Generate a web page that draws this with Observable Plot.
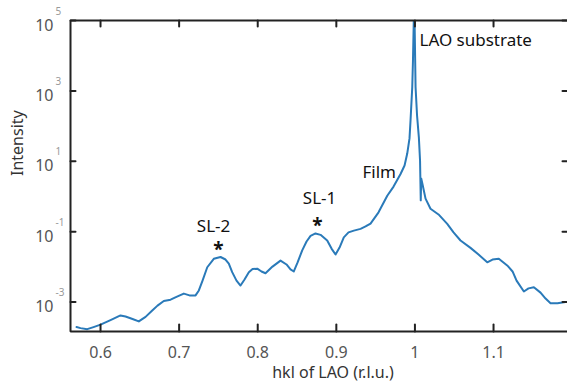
<!DOCTYPE html>
<html>
<head>
<meta charset="utf-8">
<script src="https://cdn.jsdelivr.net/npm/d3@7"></script>
<script src="https://cdn.jsdelivr.net/npm/@observablehq/plot@0.6"></script>
<style>
  html, body { margin: 0; padding: 0; background: #fff; }
</style>
</head>
<body>
<div id="chart"></div>
<script>
// hkl (r.l.u.)
const hkl = [0.5695,0.5746,0.5831,0.5911,0.600,0.6127,0.6254,0.6318,0.6407,0.6487,0.6573,0.6658,0.6725,0.6805,0.6891,0.698,0.706,0.7132,0.7209,0.7251,0.7298,0.7358,0.7441,0.7527,0.759,0.7632,0.7675,0.773,0.7781,0.7832,0.7887,0.7934,0.7994,0.8048,0.8099,0.8188,0.829,0.8366,0.8417,0.8459,0.8506,0.8566,0.8621,0.8672,0.8735,0.8799,0.8884,0.8939,0.899,0.9041,0.9095,0.9155,0.9223,0.9308,0.9372,0.9435,0.9537,0.9648,0.9728,0.9817,0.9868,0.9902,0.9931,0.9944,0.9966,0.9975,0.9986,0.9995,1.0008,1.0027,1.005,1.0065,1.0074,1.008,1.0097,1.0135,1.0198,1.03,1.0411,1.0491,1.058,1.0707,1.0809,1.092,1.0987,1.1067,1.1174,1.1242,1.1293,1.1386,1.1445,1.1513,1.1598,1.1662,1.1725,1.1814,1.1916];
// intensity
const intensity = [1.95e-4,1.82e-4,1.70e-4,1.95e-4,2.29e-4,3.09e-4,4.17e-4,3.89e-4,3.31e-4,2.82e-4,3.80e-4,5.75e-4,7.94e-4,1.07e-3,1.17e-3,1.45e-3,1.74e-3,1.55e-3,1.55e-3,2.14e-3,4.07e-3,9.77e-3,1.70e-2,1.91e-2,1.62e-2,1.23e-2,7.08e-3,4.07e-3,2.95e-3,4.37e-3,7.08e-3,8.71e-3,8.91e-3,7.41e-3,6.61e-3,1.02e-2,1.51e-2,1.17e-2,8.51e-3,7.41e-3,1.32e-2,2.95e-2,5.25e-2,7.59e-2,8.91e-2,8.13e-2,5.62e-2,3.31e-2,2.24e-2,3.55e-2,6.92e-2,9.55e-2,1.07e-1,1.20e-1,1.41e-1,1.70e-1,3.55e-1,1.05,1.91,4.37,7.59,16.6,44.7,145,1290,7240,1.2e5,1.2e5,1290,200,47.9,10.5,0.776,3.24,2.19,0.87,0.447,0.309,0.166,0.0955,0.0562,0.0347,0.0224,0.0135,0.0162,0.0170,0.0110,0.00741,0.00407,0.00200,0.00245,0.00263,0.00186,0.00126,0.000933,0.000933,0.001];

const xTicks = [0.6, 0.7, 0.8, 0.9, 1.0, 1.1];
const xTickLabels = ["0.6", "0.7", "0.8", "0.9", "1", "1.1"];
const yTicks = [1e5, 1e3, 1e1, 1e-1, 1e-3];
const yTickBase = ["10", "10", "10", "10", "10"];
const yTickExp = ["5", "3", "1", "-1", "-3"];

// annotations: left-aligned and centred groups
const annStartText = ["LAO substrate", "Film"];
const annStartX = [1.0058, 0.9333];
const annStartY = [2.7e4, 4.8];
const annMidText = ["SL-1", "SL-2"];
const annMidX = [0.8786, 0.7438];
const annMidY = [0.85, 0.14];
const starX = [0.876, 0.750];
const starY = [0.15, 0.03];

const xDomain = [0.5618, 1.1941];
const yDomain = [1.46e-4, 1e5];

const W = 567, H = 390, mL = 70, mR = 0, mT = 20, mB = 59;
const fw = W - mL - mR, fh = H - mT - mB;
const ink = "#222";
// data units per pixel, for tick lengths expressed through the scales
const xpp = (xDomain[1] - xDomain[0]) / fw;
const dpp = Math.log10(yDomain[1] / yDomain[0]) / fh;

const data = hkl.map((h, i) => ({h, I: intensity[i]}));
const annStart = annStartText.map((t, i) => ({t, x: annStartX[i], y: annStartY[i]}));
const annMid = annMidText.map((t, i) => ({t, x: annMidX[i], y: annMidY[i]}));
const stars = starX.map((x, i) => ({x, y: starY[i]}));
const yLab = yTicks.map((v, i) => ({x: xDomain[0], y: v, base: yTickBase[i], exp: yTickExp[i]}));
const xLab = xTicks.map((v, i) => ({x: v, y: yDomain[0], t: xTickLabels[i]}));

const frame = [
  {x: xDomain[1], y: yDomain[1]},
  {x: xDomain[0], y: yDomain[1]},
  {x: xDomain[0], y: yDomain[0]},
  {x: xDomain[1], y: yDomain[0]}
];
const tickSegs = [
  ...xTicks.flatMap(t => [{k: "b" + t, x: t, y: yDomain[0]}, {k: "b" + t, x: t, y: yDomain[0] * 10 ** (7 * dpp)}]),
  ...xTicks.flatMap(t => [{k: "t" + t, x: t, y: yDomain[1]}, {k: "t" + t, x: t, y: yDomain[1] / 10 ** (6 * dpp)}]),
  ...yTicks.flatMap(t => [{k: "l" + t, x: xDomain[0], y: t}, {k: "l" + t, x: xDomain[0] + 5 * xpp, y: t}]),
  ...yTicks.flatMap(t => [{k: "r" + t, x: xDomain[1], y: t}, {k: "r" + t, x: xDomain[1] - 5 * xpp, y: t}])
];

const chart = Plot.plot({
  width: W,
  height: H,
  marginLeft: mL,
  marginRight: mR,
  marginTop: mT,
  marginBottom: mB,
  style: {fontFamily: "'Noto Sans', sans-serif", background: "#fff"},
  x: {domain: xDomain, axis: null},
  y: {type: "log", domain: yDomain, axis: null},
  marks: [
    Plot.line(data, {x: "h", y: "I", stroke: "#2a7ab9", strokeWidth: 2, clip: true}),
    // tick labels (anchored through both scales)
    Plot.text(xLab, {x: "x", y: "y", dy: 21, text: "t", fill: "#555", fontSize: 16}),
    Plot.text(yLab, {x: "x", y: "y", dx: -17, dy: 5, textAnchor: "end", text: "base", fill: "#555", fontSize: 16}),
    Plot.text(yLab, {x: "x", y: "y", dx: -15, dy: -9, textAnchor: "start", text: "exp", fill: "#999", fontSize: 10}),
    // axis labels
    Plot.text(["hkl of LAO (r.l.u.)"], {frameAnchor: "bottom", dx: 14, dy: 46, text: d => d, fill: "#333", fontSize: 16}),
    Plot.text(["Intensity"], {frameAnchor: "left", dx: -53, rotate: -90, text: d => d, fill: "#333", fontSize: 16}),
    // annotations
    Plot.text(annStart, {x: "x", y: "y", text: "t", textAnchor: "start", fill: "#111", fontSize: 17}),
    Plot.text(annMid, {x: "x", y: "y", text: "t", textAnchor: "middle", fill: "#111", fontSize: 17}),
    Plot.text(stars, {x: "x", y: "y", text: () => "*", fill: "#111", fontSize: 19, fontWeight: "bold"}),
    // frame and inward ticks drawn last
    Plot.line(frame, {x: "x", y: "y", stroke: ink, strokeWidth: 2, strokeLinejoin: "miter"}),
    Plot.line(tickSegs, {x: "x", y: "y", z: "k", stroke: ink, strokeWidth: 2})
  ]
});
document.getElementById("chart").appendChild(chart);
</script>
</body>
</html>
